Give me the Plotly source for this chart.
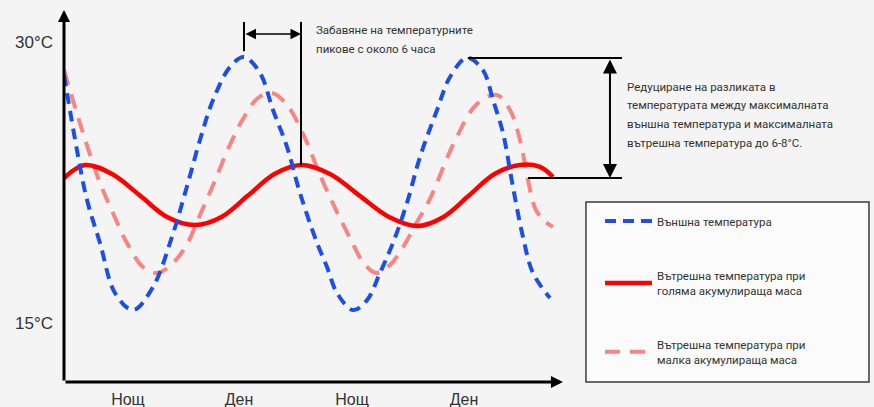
import plotly.graph_objects as go

# hours from the y axis, temperature in °C
blue_h = [0, 1.39, 2.47, 3.86, 5.47, 7.4, 9.54, 11.58, 13.19, 14.58, 15.98, 17.8, 19.3,
          21.01, 22.41, 23.91, 25.3, 27.13, 28.2, 29.27, 30.99, 32.49, 33.88, 35.27,
          36.77, 38.17, 40.0, 41.39, 43.21, 44.92, 46.0, 47.07, 48.14, 49.21, 50.28, 52.11]
blue_t = [28.24, 24.23, 21.56, 19.27, 16.6, 15.69, 16.92, 19.6, 22.3, 24.77, 26.9, 28.67, 29.2,
          28.35, 26.37, 24.4, 21.94, 19.27, 17.99, 16.6, 15.69, 16.22, 17.67, 19.27,
          21.4, 23.86, 26.37, 28.13, 29.15, 28.5, 26.9, 25.14, 22.26, 19.6, 17.67, 16.33]

red_h = [0, 2.25, 5.15, 8.15, 11.04, 14.05, 16.89, 19.73, 22.57, 25.41, 28.52, 31.68,
         34.85, 37.95, 40.69, 43.42, 46.16, 48.89, 51.03, 52.43]
red_t = [22.74, 23.43, 22.95, 21.8, 20.66, 20.23, 20.66, 21.8, 22.95, 23.43, 22.95, 21.8,
         20.66, 20.18, 20.66, 21.8, 22.95, 23.43, 23.33, 22.8]

pink_h = [0, 2.04, 3.86, 5.25, 6.75, 8.47, 9.97, 11.47, 13.08, 14.58, 16.08, 17.69, 19.19,
          20.8, 22.3, 23.91, 25.84, 27.45, 29.06, 30.66, 32.06, 33.45, 34.95, 36.35, 37.85,
          39.24, 41.71, 44.28, 46.42, 47.82, 48.89, 49.75, 50.5, 51.36, 52.43]
pink_t = [28.5, 25.14, 22.47, 20.87, 19.27, 17.99, 17.67, 18.09, 19.11, 20.76, 22.47, 24.4, 25.89,
          27.01, 27.28, 26.64, 24.87, 22.9, 21.14, 19.54, 18.25, 17.67, 18.09, 19.05, 20.39,
          21.62, 24.5, 26.69, 27.17, 26.37, 24.77, 22.63, 21.14, 20.5, 20.12]

x_ticks = [6.86, 18.76, 30.88, 42.89]
x_labels = ["Нощ", "Ден", "Нощ", "Ден"]
y_ticks = [15, 30]
y_labels = ["15°C", "30°C"]

names = [
    "Външна температура",
    "Вътрешна температура при<br>голяма акумулираща маса",
    "Вътрешна температура при<br>малка акумулираща маса",
]
delay_lines = ["Забавяне на температурните", "пикове с около 6 часа"]
delay_line_t = [30.64, 29.63]
diff_lines = [
    "Редуциране на разликата в",
    "температурата между максималната",
    "външна температура и максималната",
    "вътрешна температура до 6-8°C.",
]
diff_line_t = [27.6, 26.64, 25.62, 24.61]

X_MIN, X_MAX, X_END = 0, 86.85, 53.5
Y_MIN, Y_MAX, Y_TOP = 11.85, 32.24, 31.7

NARROW = "Roboto, sans-serif"
TXT = "#333333"
FS = 11.5

fig = go.Figure()

fig.add_trace(go.Scatter(
    x=pink_h, y=pink_t, mode="lines", name=names[2], legendrank=3, legendgroup="c",
    line=dict(color="#f88483", width=4, dash="15px,10px", shape="spline", smoothing=1)
))
fig.add_trace(go.Scatter(
    x=red_h, y=red_t, mode="lines", name=names[1], legendrank=2, legendgroup="b",
    line=dict(color="#ff0000", width=4.5, shape="spline", smoothing=1)
))
fig.add_trace(go.Scatter(
    x=blue_h, y=blue_t, mode="lines", name=names[0], legendrank=1, legendgroup="a",
    line=dict(color="#1d4fe6", width=4, dash="11px,7px", shape="spline", smoothing=1)
))

# axes with arrow heads
fig.add_annotation(x=X_END, y=Y_MIN, ax=0, ay=Y_MIN, xref="x", yref="y", axref="x", ayref="y",
                   text="", showarrow=True, arrowhead=2, arrowsize=0.8, arrowwidth=3, arrowcolor="black")
fig.add_annotation(x=0, y=Y_TOP, ax=0, ay=Y_MIN, xref="x", yref="y", axref="x", ayref="y",
                   text="", showarrow=True, arrowhead=2, arrowsize=0.8, arrowwidth=3, arrowcolor="black")

# peak delay bracket: first outside peak vs. following inside peak
i_blue = blue_t.index(max(blue_t[:20]))
i_red = 5 + red_t[5:12].index(max(red_t[5:12]))
blue_peak_h = blue_h[i_blue]
red_peak_h = red_h[i_red]
fig.add_shape(type="line", x0=blue_peak_h, x1=blue_peak_h, y0=29.5, y1=31.07,
              line=dict(color="black", width=2))
fig.add_shape(type="line", x0=red_peak_h, x1=red_peak_h, y0=red_t[i_red], y1=31.07,
              line=dict(color="black", width=2))
fig.add_annotation(x=red_peak_h, y=30.43, ax=blue_peak_h, ay=30.43, xref="x", yref="y",
                   axref="x", ayref="y", text="", showarrow=True, arrowhead=2, arrowside="end+start",
                   arrowsize=1.4, arrowwidth=1.5, arrowcolor="black")
for line, t in zip(delay_lines, delay_line_t):
    fig.add_annotation(x=26.8, y=t, xref="x", yref="y", text=line, showarrow=False,
                       xanchor="left", yanchor="middle", font=dict(family=NARROW, size=FS, color=TXT))

# amplitude bracket
top_t = max(blue_t[20:])
low_t = 22.74
fig.add_shape(type="line", x0=43.3, x1=59.83, y0=top_t, y1=top_t, line=dict(color="black", width=2))
fig.add_shape(type="line", x0=49.76, x1=59.83, y0=low_t, y1=low_t, line=dict(color="black", width=2))
fig.add_annotation(x=58.54, y=low_t, ax=58.54, ay=top_t, xref="x", yref="y", axref="x", ayref="y",
                   text="", showarrow=True, arrowhead=2, arrowside="end+start",
                   arrowsize=1.4, arrowwidth=2, arrowcolor="black")
for line, t in zip(diff_lines, diff_line_t):
    fig.add_annotation(x=60.15, y=t, xref="x", yref="y", text=line, showarrow=False,
                       xanchor="left", yanchor="middle", font=dict(family=NARROW, size=FS, color=TXT))

# legend frame
fig.add_shape(type="rect", xref="paper", yref="paper", x0=0.6444, x1=0.9938,
              y0=0, y1=0.4712, line=dict(color="#3a3a3a", width=1.5),
              fillcolor="#fbfbfb", layer="below")

fig.update_layout(
    width=874, height=407, autosize=False,
    margin=dict(l=64, r=0, t=0, b=25),
    paper_bgcolor="#f4f4f4", plot_bgcolor="#f4f4f4",
    showlegend=True,
    legend=dict(x=0.6617, y=0.4594, xanchor="left", yanchor="top",
                bgcolor="rgba(0,0,0,0)", borderwidth=0, itemwidth=47, tracegroupgap=36,
                font=dict(family=NARROW, size=FS, color=TXT)),
    xaxis=dict(range=[X_MIN, X_MAX], showgrid=False, zeroline=False, showline=False,
               tickvals=x_ticks, ticktext=x_labels, ticks="", ticklabelstandoff=6,
               tickfont=dict(family="Liberation Sans, Arial, sans-serif", size=16, color=TXT)),
    yaxis=dict(range=[Y_MIN, Y_MAX], showgrid=False, zeroline=False, showline=False,
               tickvals=y_ticks, ticktext=y_labels, ticks="", ticklabelstandoff=10,
               tickfont=dict(family="Liberation Sans, Arial, sans-serif", size=17, color=TXT)),
)

fig.write_html("out.html", config={"displayModeBar": False},
               post_script="document.body.style.margin='0';")
